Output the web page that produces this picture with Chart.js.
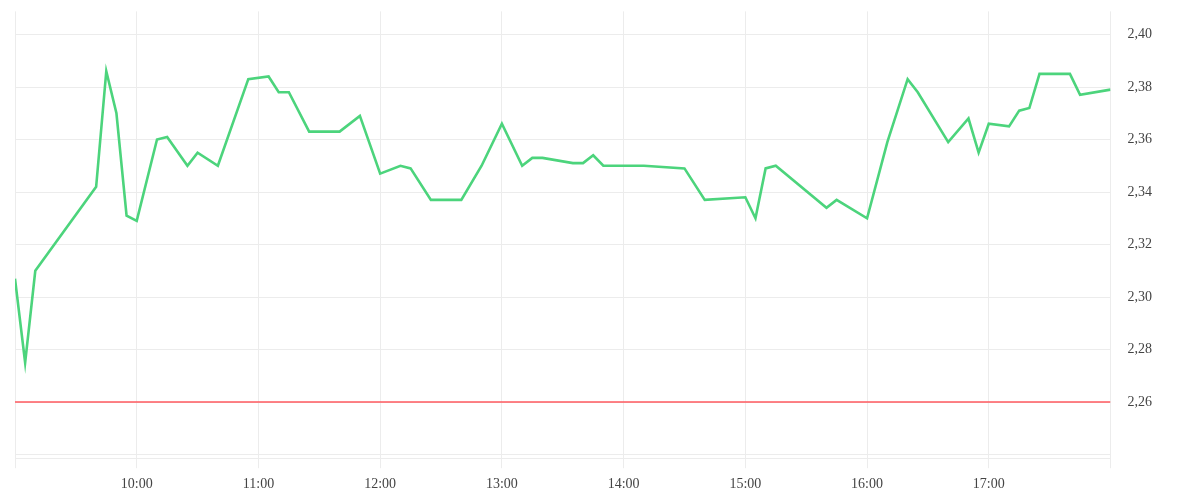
<!DOCTYPE html>
<html>
<head>
<meta charset="utf-8">
<script src="https://cdn.jsdelivr.net/npm/chart.js@4/dist/chart.umd.min.js"></script>
<style>
  html, body { margin: 0; padding: 0; background: #fff; }
  #wrap { width: 1200px; height: 500px; }
</style>
</head>
<body>
<div id="wrap"><canvas id="priceChart"></canvas></div>
<script>
// Intraday quotes (time of day, price)
const times = [
  '09:00', '09:05', '09:10', '09:40', '09:45', '09:50', '09:55', '10:00',
  '10:10', '10:15', '10:25', '10:30', '10:40', '10:55', '11:05', '11:10',
  '11:15', '11:25', '11:40', '11:50', '12:00', '12:10', '12:15', '12:25',
  '12:40', '12:50', '13:00', '13:10', '13:15', '13:20', '13:35', '13:40',
  '13:45', '13:50', '14:10', '14:30', '14:40', '15:00', '15:05', '15:10',
  '15:15', '15:40', '15:45', '16:00', '16:10', '16:20', '16:25', '16:40',
  '16:50', '16:55', '17:00', '17:10', '17:15', '17:20', '17:25', '17:40',
  '17:45', '18:00'
];
const prices = [
  2.307, 2.275, 2.310, 2.342, 2.386, 2.370, 2.331, 2.329,
  2.360, 2.361, 2.350, 2.355, 2.350, 2.383, 2.384, 2.378,
  2.378, 2.363, 2.363, 2.369, 2.347, 2.350, 2.349, 2.337,
  2.337, 2.350, 2.366, 2.350, 2.353, 2.353, 2.351, 2.351,
  2.354, 2.350, 2.350, 2.349, 2.337, 2.338, 2.330, 2.349,
  2.350, 2.334, 2.337, 2.330, 2.359, 2.383, 2.378, 2.359,
  2.368, 2.355, 2.366, 2.365, 2.371, 2.372, 2.385, 2.385,
  2.377, 2.379
];

// Previous close (red reference line)
const prevClose = 2.26;

// Axis settings
const sessionStart = '09:00';
const sessionEnd = '18:00';
const yMin = 2.2386;
const yMax = 2.4088;
const yTicks = [2.24, 2.26, 2.28, 2.30, 2.32, 2.34, 2.36, 2.38, 2.40];

function toMinutes(t) {
  const [h, m] = t.split(':').map(Number);
  return h * 60 + m;
}

const xMin = toMinutes(sessionStart);
const xMax = toMinutes(sessionEnd);

const pricePoints = times.map((t, i) => ({ x: toMinutes(t), y: prices[i] }));
const closePoints = [{ x: xMin, y: prevClose }, { x: xMax, y: prevClose }];

const gridColor = '#ececec';
const font = { family: "'Liberation Serif', serif", size: 14 };

const ctx = document.getElementById('priceChart').getContext('2d');
const priceChart = new Chart(ctx, {
  type: 'line',
  data: {
    datasets: [
      {
        data: pricePoints,
        borderColor: '#4cd47c',
        borderWidth: 2.6,
        pointRadius: 0,
        tension: 0,
        fill: false
      },
      {
        data: closePoints,
        borderColor: '#ff5a5f',
        borderWidth: 1.4,
        pointRadius: 0,
        fill: false
      }
    ]
  },
  options: {
    responsive: true,
    maintainAspectRatio: false,
    animation: false,
    layout: { padding: { left: 15, right: 45, top: 0, bottom: -1 } },
    plugins: {
      legend: { display: false },
      tooltip: { enabled: false }
    },
    scales: {
      x: {
        type: 'linear',
        min: xMin,
        max: xMax,
        grid: { color: gridColor, tickLength: 10 },
        border: { color: gridColor },
        ticks: {
          stepSize: 60,
          padding: 8,
          color: '#444',
          font: font,
          maxRotation: 0,
          callback: (v) => {
            if (v === xMin || v === xMax) return '';
            return Math.floor(v / 60) + ':00';
          }
        }
      },
      y: {
        position: 'right',
        min: yMin,
        max: yMax,
        afterBuildTicks: (axis) => {
          axis.ticks = yTicks.map(v => ({ value: v }));
        },
        // invisible tick marks keep the labels away from the plot
        grid: { color: gridColor, tickLength: 14, tickColor: 'rgba(0,0,0,0)' },
        border: { display: false },
        ticks: {
          padding: 3,
          color: '#444',
          font: font,
          callback: (v) => v < 2.25 ? '' : v.toFixed(2).replace('.', ',')
        }
      }
    }
  }
});
</script>
</body>
</html>
